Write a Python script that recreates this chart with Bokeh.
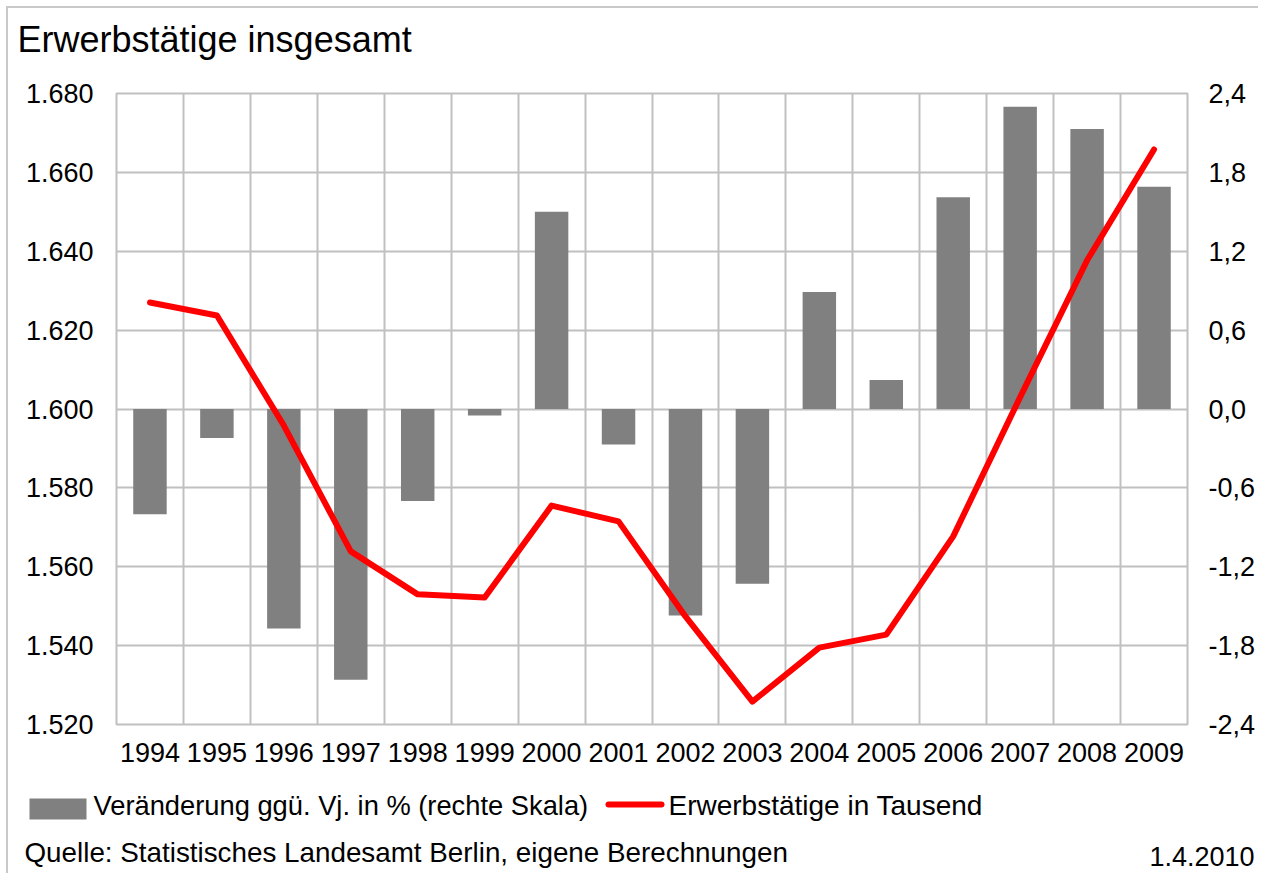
from bokeh.plotting import figure
from bokeh.models import Range1d, LinearAxis, FixedTicker
from bokeh.layouts import column
from bokeh.core.properties import value
from bokeh.embed import file_html
from bokeh.resources import INLINE

# ---- data ----
years = ["1994", "1995", "1996", "1997", "1998", "1999", "2000", "2001",
         "2002", "2003", "2004", "2005", "2006", "2007", "2008", "2009"]
change_pct = [-0.80, -0.22, -1.67, -2.06, -0.70, -0.05, 1.50, -0.27,
              -1.57, -1.33, 0.89, 0.22, 1.61, 2.30, 2.13, 1.69]
employed_thousand = [1627.0, 1623.7, 1595.8, 1563.9, 1553.0, 1552.2, 1575.5, 1571.5,
                     1547.4, 1525.8, 1539.5, 1542.8, 1567.7, 1603.0, 1637.7, 1665.8]
left_ticks = [1520, 1540, 1560, 1580, 1600, 1620, 1640, 1660, 1680]
left_tick_labels = ["1.520", "1.540", "1.560", "1.580", "1.600", "1.620", "1.640", "1.660", "1.680"]
right_ticks = [-2.4, -1.8, -1.2, -0.6, 0.0, 0.6, 1.2, 1.8, 2.4]
right_tick_labels = ["-2,4", "-1,8", "-1,2", "-0,6", "0,0", "0,6", "1,2", "1,8", "2,4"]
title_text = "Erwerbstätige insgesamt"
legend_bar_label = "Veränderung ggü. Vj. in % (rechte Skala)"
legend_line_label = "Erwerbstätige in Tausend"
source_text = "Quelle: Statistisches Landesamt Berlin, eigene Berechnungen"
date_text = "1.4.2010"

FONT = "Liberation Sans"
GRID = "#c0c0c0"
BAR = "#808080"
RED = "#ff0000"

W = 1250
HEAD_H, MAIN_H, FOOT_H = 62, 710, 93
FL, FR, FT, FB = 108, 1180, 23, 654


def text_panel(h):
    f = figure(width=W, height=h, output_backend="svg", toolbar_location=None, tools="",
               title=None, x_range=Range1d(0, W), y_range=Range1d(h, 0),
               x_axis_type=None, y_axis_type=None,
               min_border_left=0, min_border_right=0, min_border_top=0, min_border_bottom=0,
               frame_align=False)
    f.outline_line_color = None
    f.background_fill_color = "white"
    f.border_fill_color = "white"
    return f


def put_text(f, txt, x, y, size, align="left"):
    f.text(x=[x], y=[y], text=[txt], text_font=value(FONT), text_font_size=value(size),
           text_color="black", text_align=align, text_baseline="alphabetic")


# ---- header (title) ----
head = text_panel(HEAD_H)
put_text(head, title_text, 9, 31, "36px")

# ---- main chart ----
xs = [i + 0.5 for i in range(len(years))]

p = figure(width=W, height=MAIN_H, output_backend="svg", toolbar_location=None, tools="",
           title=None, frame_align=False,
           x_range=Range1d(0, len(years)), y_range=Range1d(left_ticks[0], left_ticks[-1]),
           min_border_left=FL, min_border_right=W - FR, min_border_top=FT,
           min_border_bottom=MAIN_H - FB)
p.extra_y_ranges = {"pct": Range1d(right_ticks[0], right_ticks[-1])}
p.background_fill_color = "white"
p.border_fill_color = "white"
p.outline_line_color = GRID
p.outline_line_width = 2

xa = p.xaxis[0]
xa.ticker = FixedTicker(ticks=xs)
xa.major_label_overrides = {x: y for x, y in zip(xs, years)}
xa.major_label_standoff = 18

ya = p.yaxis[0]
ya.ticker = FixedTicker(ticks=left_ticks)
ya.major_label_overrides = {t: s for t, s in zip(left_ticks, left_tick_labels)}
ya.major_label_standoff = 23

ra = LinearAxis(y_range_name="pct", ticker=FixedTicker(ticks=right_ticks),
                major_label_overrides={t: s for t, s in zip(right_ticks, right_tick_labels)},
                major_label_standoff=21)
p.add_layout(ra, "right")

for ax in (xa, ya, ra):
    ax.axis_line_color = None
    ax.major_tick_line_color = None
    ax.minor_tick_line_color = None
    ax.major_tick_out = 0
    ax.major_tick_in = 0
    ax.minor_tick_out = 0
    ax.minor_tick_in = 0
    ax.major_label_text_font = FONT
    ax.major_label_text_font_size = "27px"
    ax.major_label_text_color = "black"
ra.major_label_text_align = "left"

p.xgrid.ticker = FixedTicker(ticks=list(range(len(years) + 1)))
p.ygrid.ticker = FixedTicker(ticks=left_ticks)
for g in (p.xgrid, p.ygrid):
    g.grid_line_color = GRID
    g.grid_line_width = 2

bars = p.vbar(x=xs, top=change_pct, bottom=0, width=0.5, fill_color=BAR,
              line_color=None, y_range_name="pct")
line = p.line(xs, employed_thousand, line_color=RED, line_width=6,
              line_join="round", line_cap="round")

# ---- footer (legend + source) ----
foot = text_panel(FOOT_H)
foot.quad(left=[21], right=[78], top=[18], bottom=[39], fill_color=BAR, line_color=None)
put_text(foot, legend_bar_label, 85, 25, "27.3px")
foot.line(x=[600, 653], y=[24, 24], line_color=RED, line_width=6, line_cap="round")
put_text(foot, legend_line_label, 660, 25, "28px")
put_text(foot, source_text, 16, 72, "27.8px")
put_text(foot, date_text, 1246, 76, "27px", align="right")

layout = column(head, p, foot, spacing=0)
layout.styles = {"margin-left": "6px", "margin-top": "6px",
                 "border-left": "2px solid #c8c8c8", "border-top": "2px solid #c8c8c8"}

open("out.html", "w").write(file_html(layout, INLINE))
